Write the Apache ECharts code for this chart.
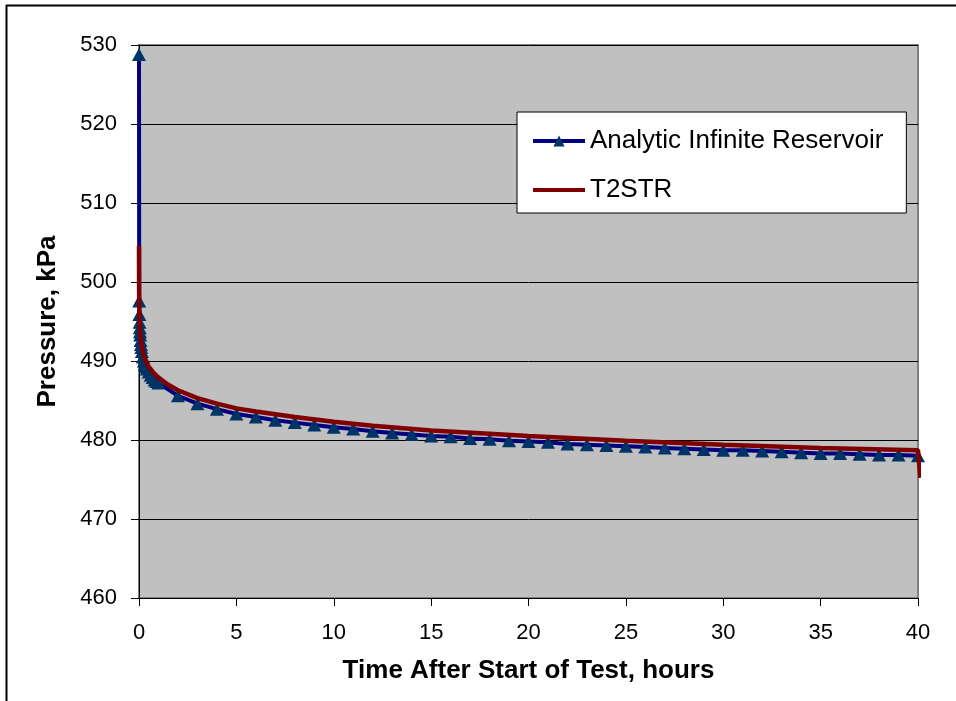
<!DOCTYPE html>
<html>
<head>
<meta charset="utf-8">
<script src="https://cdn.jsdelivr.net/npm/echarts@6/dist/echarts.min.js"></script>
<style>
html,body{margin:0;padding:0;background:#fff;}
#chart{width:956px;height:701px;}
</style>
</head>
<body>
<div id="chart"></div>
<script>
// Analytic Infinite Reservoir: time (hours) and pressure (kPa)
var analyticTime = [0, 0.01, 0.02, 0.03, 0.04, 0.05, 0.06, 0.08, 0.1, 0.12, 0.15, 0.2, 0.25, 0.3, 0.35, 0.4, 0.5, 0.6, 0.7, 0.8, 0.9,
  1, 2, 3, 4, 5, 6, 7, 8, 9, 10, 11, 12, 13, 14, 15, 16, 17, 18, 19, 20,
  21, 22, 23, 24, 25, 26, 27, 28, 29, 30, 31, 32, 33, 34, 35, 36, 37, 38, 39, 40];
var analyticPressure = [528.8, 497.6, 495.9, 494.9, 494.2, 493.7, 493.3, 492.6, 492.1, 491.7, 491.2, 490.5, 490.0, 489.6, 489.3, 489.0, 488.6, 488.2, 487.9, 487.6, 487.4,
  487.2, 485.6, 484.6, 483.9, 483.3, 482.9, 482.5, 482.2, 481.9, 481.6, 481.4, 481.1, 480.9, 480.7, 480.5, 480.4, 480.2, 480.1, 479.9, 479.8,
  479.7, 479.5, 479.4, 479.3, 479.2, 479.1, 479.0, 478.9, 478.8, 478.7, 478.7, 478.6, 478.5, 478.4, 478.3, 478.3, 478.2, 478.1, 478.1, 478.0];

// T2STR simulation: time (hours) and pressure (kPa)
var t2strTime = [0, 0.005, 0.01, 0.02, 0.05, 0.1, 0.2, 0.3, 0.5, 0.75, 1, 1.5, 2, 3, 4, 5, 6, 8, 10, 12, 15, 18, 20, 25, 30, 35, 40, 40.12];
var t2strPressure = [504.6, 499.0, 497.4, 495.9, 493.9, 492.4, 491.0, 490.3, 489.3, 488.5, 487.9, 487.0, 486.3, 485.3, 484.6, 484.0, 483.6, 482.9, 482.3, 481.8, 481.2, 480.8, 480.5, 479.9, 479.4, 479.0, 478.7, 475.2];

var xTicks = {min: 0, max: 40, interval: 5};
var yTicks = {min: 460, max: 530, interval: 10};

function pairs(xs, ys) {
  var out = [];
  for (var i = 0; i < xs.length; i++) out.push([xs[i], ys[i]]);
  return out;
}

var FONT = '"Liberation Sans", Arial, sans-serif';
var chart = echarts.init(document.getElementById('chart'), null, {renderer: 'canvas'});
chart.setOption({
  animation: false,
  backgroundColor: '#ffffff',
  textStyle: {fontFamily: FONT, color: '#000'},
  graphic: [
    {type: 'line', shape: {x1: 6, y1: 5.5, x2: 956, y2: 5.5}, style: {stroke: '#000', lineWidth: 2}, z: 100},
    {type: 'line', shape: {x1: 6.5, y1: 5, x2: 6.5, y2: 701}, style: {stroke: '#000', lineWidth: 2}, z: 100}
  ],
  grid: {
    left: 139, right: 38, top: 45, bottom: 103,
    show: true, backgroundColor: '#C0C0C0', borderColor: '#808080', borderWidth: 2
  },
  legend: {
    orient: 'vertical',
    left: 517, top: 112,
    backgroundColor: '#ffffff',
    borderColor: '#000', borderWidth: 1,
    padding: [14, 23, 8, 14],
    itemWidth: 52, itemHeight: 14, itemGap: 19,
    lineStyle: {width: 4},
    textStyle: {fontFamily: FONT, fontSize: 26, color: '#000', lineHeight: 30},
    data: [
      {name: 'Analytic Infinite Reservoir'},
      {name: 'T2STR', itemStyle: {opacity: 0}}
    ]
  },
  xAxis: {
    type: 'value',
    min: xTicks.min, max: xTicks.max, interval: xTicks.interval,
    name: 'Time After Start of Test, hours',
    nameLocation: 'middle', nameGap: 60,
    nameTextStyle: {fontFamily: FONT, fontSize: 26, fontWeight: 'bold', color: '#000'},
    axisLine: {show: true, onZero: false, lineStyle: {color: '#000', width: 1}},
    axisTick: {show: true, inside: false, length: 8, lineStyle: {color: '#000'}},
    axisLabel: {fontFamily: FONT, fontSize: 22, color: '#000', margin: 24},
    splitLine: {show: false}
  },
  yAxis: {
    type: 'value',
    min: yTicks.min, max: yTicks.max, interval: yTicks.interval,
    name: 'Pressure, kPa',
    nameLocation: 'middle', nameGap: 78, nameRotate: 90,
    nameTextStyle: {fontFamily: FONT, fontSize: 26, fontWeight: 'bold', color: '#000'},
    axisLine: {show: true, onZero: false, lineStyle: {color: '#000', width: 1}},
    axisTick: {show: true, inside: false, length: 8, lineStyle: {color: '#000'}},
    axisLabel: {fontFamily: FONT, fontSize: 22, color: '#000', margin: 22},
    splitLine: {show: true, lineStyle: {color: '#000', width: 1}}
  },
  series: [
    {
      name: 'Analytic Infinite Reservoir',
      type: 'line',
      data: pairs(analyticTime, analyticPressure),
      lineStyle: {color: '#000080', width: 4},
      itemStyle: {color: '#003366', borderWidth: 0},
      color: '#000080',
      symbol: 'triangle',
      symbolSize: [14, 13],
      showSymbol: true,
      showAllSymbol: true,
      clip: false,
      z: 2
    },
    {
      name: 'T2STR',
      type: 'line',
      data: pairs(t2strTime, t2strPressure),
      lineStyle: {color: '#800000', width: 4.5},
      itemStyle: {color: '#800000'},
      color: '#800000',
      symbol: 'none',
      showSymbol: false,
      clip: false,
      z: 3
    }
  ]
});
</script>
</body>
</html>
